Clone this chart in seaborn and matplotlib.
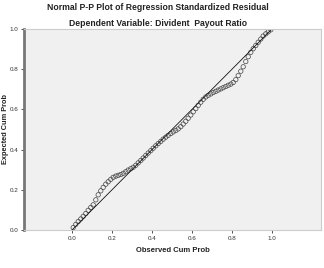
import matplotlib
matplotlib.use("Agg")
import matplotlib.pyplot as plt
import seaborn as sns
import pandas as pd

observed = [0.006, 0.019, 0.031, 0.044, 0.056, 0.069, 0.081, 0.094, 0.106, 0.119,
            0.131, 0.144, 0.156, 0.169, 0.181, 0.194, 0.206, 0.219, 0.231, 0.244,
            0.256, 0.269, 0.281, 0.294, 0.306, 0.319, 0.331, 0.344, 0.356, 0.369,
            0.381, 0.394, 0.406, 0.419, 0.431, 0.444, 0.456, 0.469, 0.481, 0.494,
            0.506, 0.519, 0.531, 0.544, 0.556, 0.569, 0.581, 0.594, 0.606, 0.619,
            0.631, 0.644, 0.656, 0.669, 0.681, 0.694, 0.706, 0.719, 0.731, 0.744,
            0.756, 0.769, 0.781, 0.794, 0.806, 0.819, 0.831, 0.844, 0.856, 0.869,
            0.881, 0.894, 0.906, 0.919, 0.931, 0.944, 0.956, 0.969, 0.981, 0.994]
expected = [0.012, 0.028, 0.042, 0.055, 0.068, 0.082, 0.098, 0.112, 0.125, 0.150,
            0.175, 0.195, 0.212, 0.228, 0.240, 0.252, 0.262, 0.268, 0.272, 0.276,
            0.282, 0.290, 0.298, 0.305, 0.312, 0.322, 0.334, 0.346, 0.358, 0.371,
            0.383, 0.395, 0.407, 0.419, 0.430, 0.441, 0.452, 0.462, 0.471, 0.480,
            0.488, 0.495, 0.503, 0.514, 0.527, 0.541, 0.556, 0.572, 0.588, 0.604,
            0.620, 0.636, 0.650, 0.662, 0.670, 0.677, 0.684, 0.690, 0.696, 0.702,
            0.708, 0.714, 0.720, 0.726, 0.734, 0.748, 0.768, 0.790, 0.812, 0.838,
            0.862, 0.884, 0.902, 0.918, 0.934, 0.950, 0.965, 0.976, 0.986, 0.996]
ref_line = [0.0, 1.0]
tick_vals = [0.0, 0.2, 0.4, 0.6, 0.8, 1.0]
tick_labels = ["0.0", "0.2", "0.4", "0.6", "0.8", "1.0"]

title1 = "Normal P-P Plot of Regression Standardized Residual"
title2 = "Dependent Variable: Divident  Payout Ratio"
xlabel = "Observed Cum Prob"
ylabel = "Expected Cum Prob"

sns.set_style("white")
plt.rcParams["font.family"] = ["Liberation Sans", "DejaVu Sans"]

df = pd.DataFrame({"obs": observed, "exp": expected})
ref = pd.DataFrame({"x": ref_line, "y": ref_line})

fig = plt.figure(figsize=(3.24, 2.68), dpi=100)
ax = fig.add_axes([24/324, 38/268, (321-24)/324, (230-29)/268])
ax.set_facecolor("#f0f0f0")

sns.lineplot(data=ref, x="x", y="y", ax=ax, color="#111111", linewidth=0.6)
sns.scatterplot(data=df, x="obs", y="exp", ax=ax, marker="o", s=10,
                facecolors="none", edgecolor="#444444", linewidth=0.5)

ax.set_xlim(-0.24, 1.245)
ax.set_ylim(0, 1.0)
ax.set_xticks(tick_vals)
ax.set_xticklabels(tick_labels)
ax.set_yticks(tick_vals)
ax.set_yticklabels(tick_labels)
ax.tick_params(axis="both", labelsize=4.5, length=2.5, width=0.6, pad=1.5,
               colors="#333333", direction="out", bottom=True, left=True)

for s in ["top", "right", "bottom"]:
    ax.spines[s].set_color("#cccccc")
    ax.spines[s].set_linewidth(0.8)
ax.spines["left"].set_color("#777777")
ax.spines["left"].set_linewidth(2)

ax.set_xlabel(xlabel, fontsize=5.5, fontweight="bold", labelpad=5, color="#222222")
ax.set_ylabel(ylabel, fontsize=5.3, fontweight="bold", color="#222222")
ax.yaxis.label.set_va("center")
ax.yaxis.set_label_coords((5.5 - 24) / 297, 0.5)

fig.text(158/324, 1 - 7/268, title1, ha="center", va="center",
         fontsize=6.2, fontweight="bold", color="#222222")
fig.text(158/324, 1 - 23/268, title2, ha="center", va="center",
         fontsize=6.2, fontweight="bold", color="#222222")

fig.savefig("out.png", dpi=100)
